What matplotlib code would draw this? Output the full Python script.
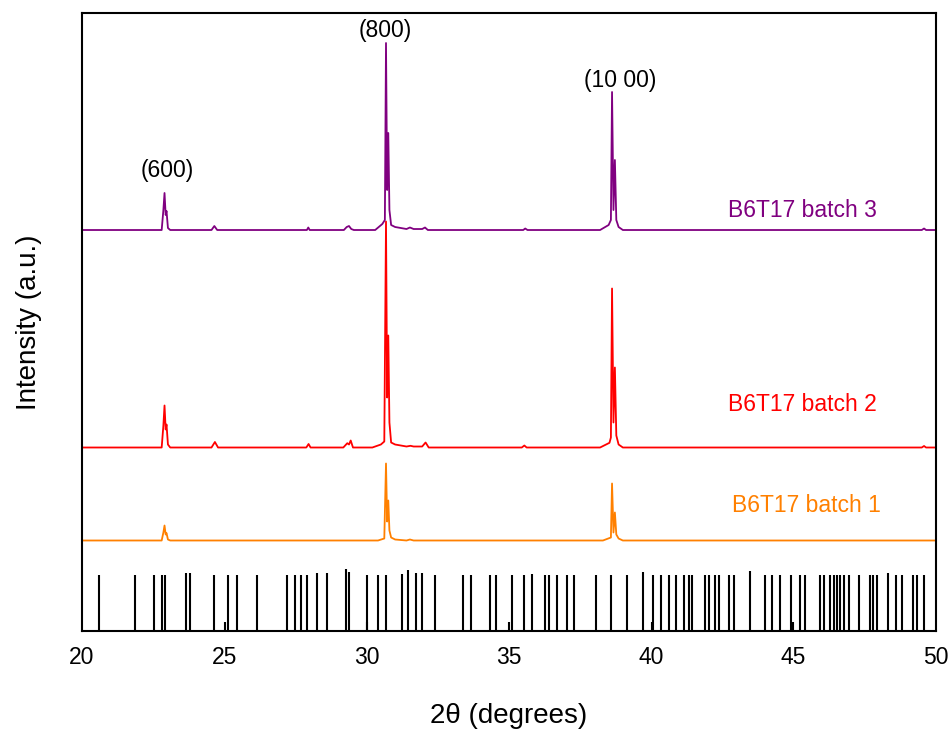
import matplotlib
matplotlib.use('Agg')
import numpy as np
from matplotlib import pyplot as plt

plt.rcParams['font.family'] = ['Liberation Sans', 'DejaVu Sans']

# batch 3 (purple): 2theta, intensity above baseline (a.u.)
b3_tt = [20.0, 22.80, 22.86, 22.90, 22.94, 22.97, 23.02, 23.10, 24.55, 24.65, 24.75,
         27.90, 27.95, 28.00, 29.20, 29.30, 29.38, 29.46, 29.55, 30.30, 30.55, 30.64,
         30.68, 30.72, 30.76, 30.80, 30.86, 31.00, 31.40, 31.52, 31.65, 31.95, 32.05,
         32.15, 35.50, 35.57, 35.65, 38.20, 38.50, 38.58, 38.62, 38.67, 38.72, 38.77,
         38.85, 39.00, 49.50, 49.58, 49.65, 50.0]
b3_int = [0, 0, 20, 37, 15, 19, 2, 0, 0, 4, 0,
          0, 2.5, 0, 0, 3, 4, 1, 0, 0, 6, 10,
          187, 40, 97, 20, 5, 3, 1, 2.5, 1, 1, 2.5,
          0, 0, 1.5, 0, 0, 5, 10, 138, 20, 70, 10,
          3, 0, 0, 1.5, 0, 0]

# batch 2 (red)
b2_tt = [20.0, 22.80, 22.86, 22.90, 22.94, 22.97, 23.02, 23.10, 24.55, 24.67, 24.78,
         27.88, 27.96, 28.03, 29.18, 29.32, 29.38, 29.44, 29.52, 30.20, 30.50, 30.62,
         30.68, 30.72, 30.76, 30.80, 30.86, 31.00, 31.40, 31.54, 31.65, 31.95, 32.07,
         32.18, 35.45, 35.54, 35.62, 38.20, 38.53, 38.58, 38.62, 38.67, 38.72, 38.77,
         38.85, 39.00, 49.50, 49.58, 49.65, 50.0]
b2_int = [0, 0, 22, 42, 18, 23, 3, 0, 0, 5.5, 0,
          0, 3.5, 0, 0, 4.3, 3, 7, 0, 0, 3, 6,
          226, 50, 112, 25, 5, 3, 1, 1.7, 1, 1, 5,
          0, 0, 2, 0, 0, 4.7, 10, 159, 25, 80, 12,
          3, 0, 0, 1.5, 0, 0]

# batch 1 (orange)
b1_tt = [20.0, 22.80, 22.86, 22.90, 22.94, 22.97, 23.02, 23.10, 30.40, 30.62,
         30.68, 30.72, 30.76, 30.80, 30.86, 31.00, 31.40, 31.52, 31.65, 38.30, 38.58,
         38.62, 38.67, 38.72, 38.77, 38.85, 39.00, 50.0]
b1_int = [0, 0, 8, 15, 6, 7.4, 1, 0, 0, 2,
          77, 19, 40, 10, 3, 1, 0, 1, 0, 0, 3,
          57, 8, 28, 6, 2, 0, 0]

# reference pattern sticks
ref_tt = [20.61, 21.86, 22.53, 22.80, 22.90, 23.65, 23.78, 24.64, 25.04, 25.13, 25.46,
          26.14, 27.19, 27.47, 27.71, 27.92, 28.25, 28.59, 29.29, 29.39, 30.00, 30.02,
          30.39, 30.68, 31.25, 31.46, 31.72, 31.94, 32.39, 33.40, 33.67, 34.35, 34.56,
          35.01, 35.12, 35.51, 35.80, 36.27, 36.39, 36.69, 37.03, 37.29, 38.04, 38.59,
          39.16, 39.72, 40.02, 40.06, 40.33, 40.63, 40.85, 41.16, 41.31, 41.43, 41.87,
          42.01, 42.22, 42.36, 42.74, 42.92, 43.45, 43.98, 44.24, 44.53, 44.90, 44.99,
          45.24, 45.39, 45.91, 46.05, 46.26, 46.40, 46.52, 46.63, 46.78, 46.96, 47.31,
          47.69, 47.80, 47.93, 48.32, 48.60, 48.80, 49.19, 49.32, 49.58]
ref_int = [56, 56, 56, 56, 56, 58, 58, 56, 9, 56, 56,
           56, 56, 56, 56, 56, 58, 58, 62, 59, 56, 9,
           56, 56, 57, 61, 58, 58, 56, 56, 56, 56, 56,
           9, 56, 56, 57, 56, 56, 56, 56, 56, 56, 56,
           56, 59, 9, 56, 56, 56, 56, 56, 56, 56, 56,
           56, 56, 56, 56, 56, 60, 56, 56, 56, 56, 9,
           56, 56, 56, 56, 56, 56, 56, 56, 56, 56, 56,
           56, 56, 56, 58, 56, 56, 56, 56, 56]

fig = plt.figure(figsize=(9.52, 7.31), dpi=100)
ax = fig.add_axes([0.0861, 0.1368, 0.8971, 0.8454])

ax.plot(b1_tt, np.array(b1_int) + 90.5, color='#ff8000', lw=1.3)
ax.plot(b2_tt, np.array(b2_int) + 183.5, color='#ff0000', lw=1.3)
ax.plot(b3_tt, np.array(b3_int) + 401, color='#800080', lw=1.3)
ax.vlines(ref_tt, 0, ref_int, color='black', lw=1.5)

ax.text(45.3, 421, 'B6T17 batch 3', color='#800080', fontsize=16.5, ha='center', va='center')
ax.text(45.3, 227, 'B6T17 batch 2', color='#ff0000', fontsize=16.5, ha='center', va='center')
ax.text(45.45, 126, 'B6T17 batch 1', color='#ff8000', fontsize=16.5, ha='center', va='center')

ax.text(22.99, 461, '(600)', fontsize=16.5, ha='center', va='center')
ax.text(30.64, 601, '(800)', fontsize=16.5, ha='center', va='center')
ax.text(38.9, 551, '(10 00)', fontsize=16.5, ha='center', va='center')

ax.set_xlim(20, 50)
ax.set_ylim(0, 618)
ax.set_xticks([20, 25, 30, 35, 40, 45, 50])
ax.set_yticks([])
ax.tick_params(axis='x', length=0, pad=11, labelsize=16.5)
for s in ax.spines.values():
    s.set_linewidth(1.5)

ax.set_xlabel('2θ (degrees)', fontsize=20, labelpad=24)
ax.set_ylabel('Intensity (a.u.)', fontsize=20, labelpad=29)

fig.savefig('out.png', dpi=100)
